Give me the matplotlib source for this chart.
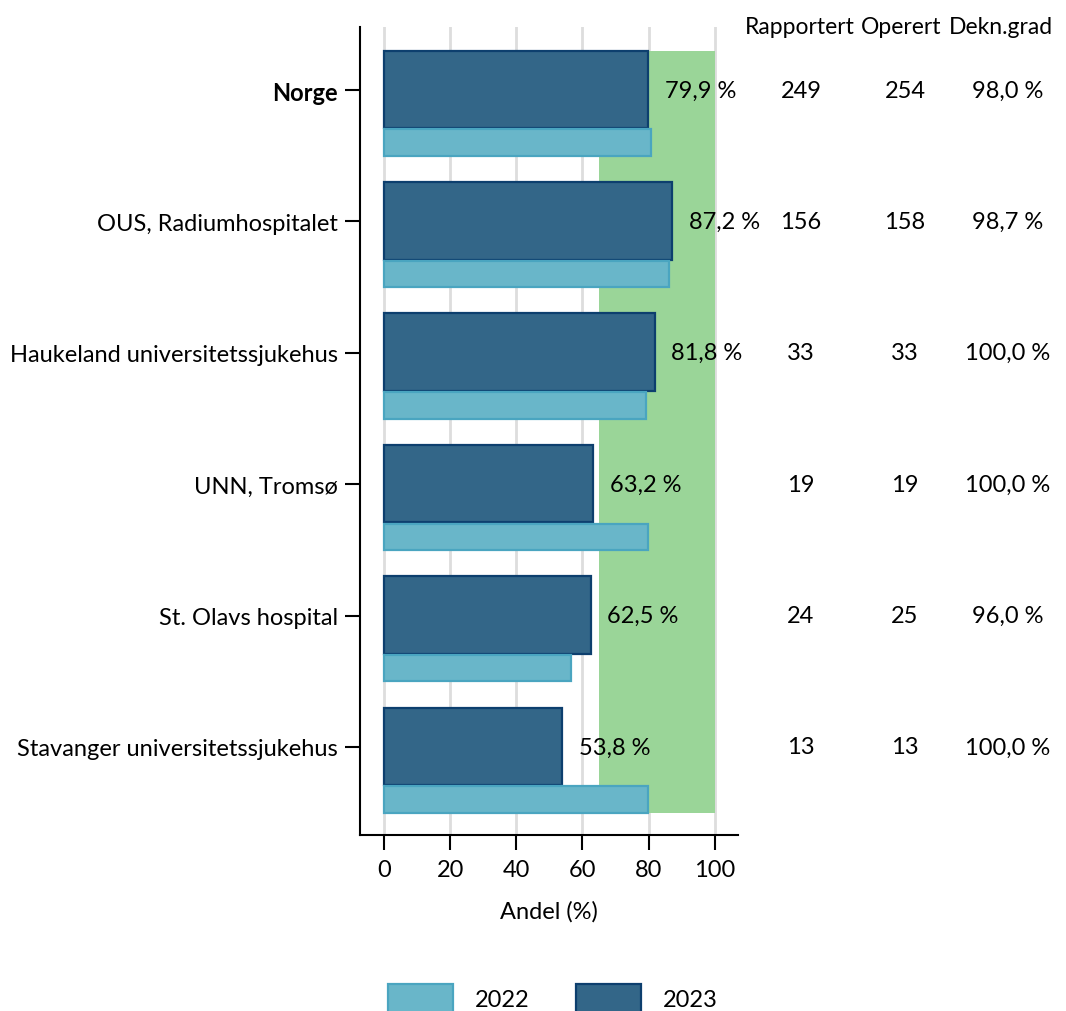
import matplotlib
matplotlib.use("Agg")
import matplotlib.pyplot as plt
from matplotlib.patches import Patch

plt.rcParams['font.family'] = ['Lato', 'DejaVu Sans']

categories = ["Norge", "OUS, Radiumhospitalet", "Haukeland universitetssjukehus",
              "UNN, Tromsø", "St. Olavs hospital", "Stavanger universitetssjukehus"]
values_2023 = [79.9, 87.2, 81.8, 63.2, 62.5, 53.8]
values_2022 = [80.7, 86.1, 79.2, 79.8, 56.5, 79.8]
rapportert = [249, 156, 33, 19, 24, 13]
operert = [254, 158, 33, 19, 25, 13]
dekngrad = ["98,0 %", "98,7 %", "100,0 %", "100,0 %", "96,0 %", "100,0 %"]
target_low, target_high = 65, 100
xticks = [0, 20, 40, 60, 80, 100]

c_dark = "#336688"
c_dark_edge = "#0d3f6e"
c_light = "#69b6c9"
c_light_edge = "#4aa5c0"
c_green = "#9ad598"
FS = 17

fig = plt.figure(figsize=(10.66, 10.12), dpi=100)
ax = fig.add_axes([360/1066, 1-836/1012, (738-360)/1066, (836-28)/1012])

n = len(categories)
ypos = list(range(n))

# target band
ax.barh(-0.3, target_high - target_low, left=target_low, height=(n - 1) + 0.5 + 0.3,
        align='edge', color=c_green, zorder=1, linewidth=0)

ax.barh([y - 0.3 for y in ypos], values_2023, height=0.59, align='edge',
        color=c_dark, edgecolor=c_dark_edge, linewidth=1.6, zorder=3)
ax.barh([y + 0.3 for y in ypos], values_2022, height=0.2, align='edge',
        color=c_light, edgecolor=c_light_edge, linewidth=1.6, zorder=3)

for y, v in zip(ypos, values_2023):
    ax.annotate(f"{v:.1f} %".replace(".", ","), xy=(v, y), xytext=(12, 0),
                textcoords='offset points', ha='left', va='center', fontsize=FS, zorder=5)

ax.set_xlim(-7.25, 107)
ax.set_ylim(5.67, -0.48)
ax.set_xticks(xticks)
ax.set_xticklabels([str(t) for t in xticks], fontsize=FS)
ax.set_yticks(ypos)
ax.set_yticklabels(categories, fontsize=FS)
ax.get_yticklabels()[0].set_fontweight('bold')
ax.set_xlabel("Andel (%)", fontsize=FS, labelpad=15)

for t in xticks:
    ax.axvline(t, color="#dddddd", linewidth=2, zorder=0.5)

for s in ['top', 'right']:
    ax.spines[s].set_visible(False)
for s in ['left', 'bottom']:
    ax.spines[s].set_linewidth(1.5)
ax.tick_params(axis='both', width=1.5, length=11, direction='out')
ax.tick_params(axis='y', pad=5)
ax.tick_params(axis='x', pad=6)

# table columns
col_x = [801/1066, 905/1066, 1008/1066]
heads = ["Rapportert", "Operert", "Dekn.grad"]
head_pos = [(745/1066, 'left'), (861/1066, 'left'), (1053/1066, 'right')]
for (hx, ha), h in zip(head_pos, heads):
    fig.text(hx, 1-27/1012, h, ha=ha, va='center', fontsize=16.5)
trans = matplotlib.transforms.blended_transform_factory(fig.transFigure, ax.transData)
for y, r, o, d in zip(ypos, rapportert, operert, dekngrad):
    for cx, txt in zip(col_x, [str(r), str(o), d]):
        ax.text(cx, y, txt, transform=trans, ha='center', va='center', fontsize=FS)

handles = [Patch(facecolor=c_light, edgecolor=c_light_edge, linewidth=1.6, label="2022"),
           Patch(facecolor=c_dark, edgecolor=c_dark_edge, linewidth=1.6, label="2023")]
fig.legend(handles=handles, loc='upper center', bbox_to_anchor=(553/1066, 1-964/1012),
           ncol=2, frameon=False, fontsize=FS, handlelength=2.75, handleheight=1.5,
           handletextpad=0.93, columnspacing=2.0)

fig.savefig("out.png", dpi=100)
